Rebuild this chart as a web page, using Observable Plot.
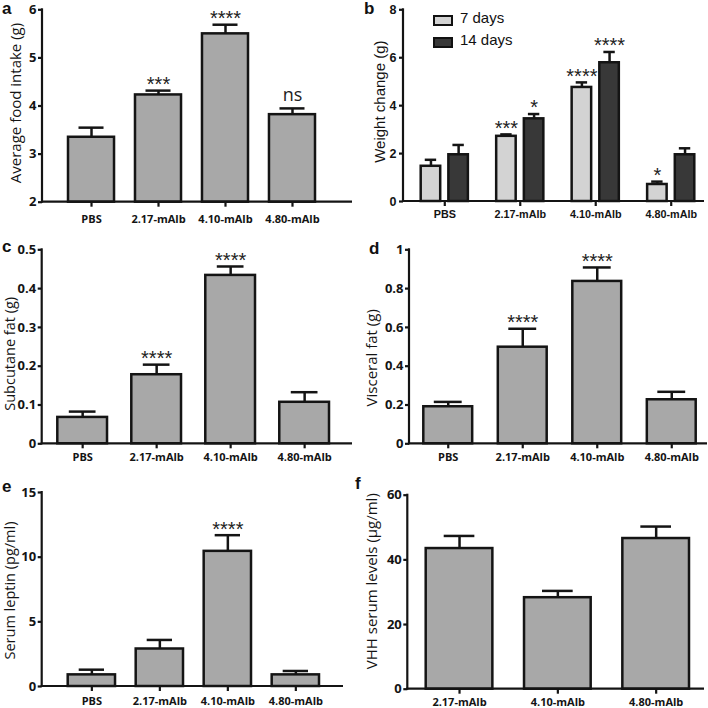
<!DOCTYPE html>
<html>
<head>
<meta charset="utf-8">
<script src="https://cdn.jsdelivr.net/npm/d3@7"></script>
<script src="https://cdn.jsdelivr.net/npm/@observablehq/plot@0.6"></script>
<style>
  html, body { margin: 0; padding: 0; background: #fff; }
  #wrap { position: relative; width: 708px; height: 708px; overflow: hidden; background: #fff; }
  .panel { position: absolute; width: 354px; height: 236px; }
  .letter { position: absolute; font: bold 17px "Liberation Sans", Arial, sans-serif; line-height: 1; color: #111; }
  .legend { position: absolute; font: 15px "Liberation Sans", Arial, sans-serif; color: #111; }
  .legend .row { position: absolute; white-space: nowrap; }
  .legend .sw { position: absolute; width: 16px; height: 7px; border: 2px solid #111; }
  .legend .lab { position: absolute; left: 27px; top: -6px; }
</style>
</head>
<body>
<div id="wrap"></div>
<script>
// ---------- data ----------
const groups = ["PBS", "2.17-mAlb", "4.10-mAlb", "4.80-mAlb"];
const vhhGroups = ["2.17-mAlb", "4.10-mAlb", "4.80-mAlb"];

const foodMean = [3.35, 4.23, 5.50, 3.82];
const foodErr  = [3.55, 4.32, 5.69, 3.95];
const foodSig  = ["", "***", "****", "ns"];

const weight7Mean  = [1.47, 2.72, 4.76, 0.71];
const weight7Err   = [1.74, 2.80, 4.97, 0.83];
const weight7Sig   = ["", "***", "****", "*"];
const weight14Mean = [1.95, 3.45, 5.79, 1.95];
const weight14Err  = [2.36, 3.65, 6.24, 2.22];
const weight14Sig  = ["", "*", "****", ""];
const seriesNames  = ["7 days", "14 days"];

const subMean = [0.068, 0.178, 0.434, 0.107];
const subErr  = [0.083, 0.204, 0.457, 0.133];
const subSig  = ["", "****", "****", ""];

const visMean = [0.191, 0.498, 0.837, 0.227];
const visErr  = [0.216, 0.593, 0.909, 0.268];
const visSig  = ["", "****", "****", ""];

const leptinMean = [0.9, 2.9, 10.45, 0.9];
const leptinErr  = [1.3, 3.6, 11.7, 1.2];
const leptinSig  = ["", "", "****", ""];

const vhhMean = [43.5, 28.3, 46.6];
const vhhErr  = [47.4, 30.4, 50.3];
const vhhSig  = ["", "", ""];

const ticksA = [2, 3, 4, 5, 6];
const ticksB = [0, 2, 4, 6, 8];
const ticksC = [0, 0.1, 0.2, 0.3, 0.4, 0.5];
const ticksD = [0, 0.2, 0.4, 0.6, 0.8, 1];
const ticksE = [0, 5, 10, 15];
const ticksF = [0, 20, 40, 60];

// ---------- helpers ----------
const INK = "#141414";
const MYRIAD = "'Open Sans', 'Noto Sans', sans-serif";
const ARIAL = "'Liberation Sans', Arial, sans-serif";
const plain = d => `${d}`;
const SW = 2.5;

function axisLines() {
  return (index, scales, values, dims) => {
    const {width, height, marginLeft, marginRight, marginTop, marginBottom} = dims;
    const g = d3.create("svg:g").attr("stroke", INK).attr("stroke-width", 2.2).attr("fill", "none");
    g.append("line").attr("x1", marginLeft).attr("x2", marginLeft)
      .attr("y1", marginTop - 1).attr("y2", height - marginBottom + 1);
    g.append("line").attr("x1", marginLeft - 1).attr("x2", width - marginRight)
      .attr("y1", height - marginBottom).attr("y2", height - marginBottom);
    return g.node();
  };
}

function styleAxes(svg, font, yFont, xFont) {
  svg.querySelectorAll('g[aria-label="y-axis tick label"]').forEach(g => {
    g.setAttribute("font-family", font); g.setAttribute("font-size", yFont.size);
    g.setAttribute("font-weight", yFont.weight); g.setAttribute("fill", INK);
  });
  svg.querySelectorAll('g[aria-label="x-axis tick label"]').forEach(g => {
    g.setAttribute("font-family", font); g.setAttribute("font-size", xFont.size);
    g.setAttribute("font-weight", xFont.weight); g.setAttribute("fill", INK);
  });
  return svg;
}

function place(node, left, top) {
  const d = document.createElement("div");
  d.className = "panel";
  d.style.left = left + "px"; d.style.top = top + "px";
  d.appendChild(node);
  document.getElementById("wrap").appendChild(d);
}

function letter(ch, left, top) {
  const d = document.createElement("div");
  d.className = "letter"; d.textContent = ch;
  d.style.left = left + "px"; d.style.top = top + "px";
  document.getElementById("wrap").appendChild(d);
}

function singlePanel(cfg) {
  const data = cfg.groups.map((g, i) => ({g, v: cfg.mean[i], e: cfg.err[i], s: cfg.sig[i]}));
  const stars = data.filter(d => d.s && d.s !== "ns");
  const ns = data.filter(d => d.s === "ns");
  const svg = Plot.plot({
    width: 354, height: 236,
    marginLeft: cfg.m[0], marginTop: cfg.m[1], marginRight: cfg.m[2], marginBottom: cfg.m[3],
    style: {background: "transparent", fontFamily: MYRIAD, overflow: "visible"},
    x: {domain: cfg.groups, range: cfg.xRange, paddingInner: cfg.pI, paddingOuter: 0, round: false},
    y: {domain: cfg.yDomain},
    marks: [
      Plot.barY(data, {x: "g", y1: cfg.yDomain[0], y2: "v", fill: "#a8a8a8", stroke: INK, strokeWidth: SW}),
      Plot.ruleX(data, {x: "g", y1: "v", y2: "e", stroke: INK, strokeWidth: SW}),
      Plot.tickY(data, {x: "g", y: "e", stroke: INK, strokeWidth: SW, inset: cfg.cap}),
      Plot.text(stars, {x: "g", y: "e", text: "s", dy: -6, fontSize: 20, fontFamily: ARIAL, fill: "#222"}),
      Plot.text(ns, {x: "g", y: "e", text: "s", dy: -13, fontSize: 18, fontFamily: MYRIAD, fill: "#222"}),
      Plot.axisY({ticks: cfg.ticks, tickFormat: plain, tickSize: 4, tickPadding: 2, strokeWidth: 2.2, stroke: INK, label: null}),
      Plot.axisX({tickSize: 5, tickPadding: cfg.xPad, strokeWidth: 2.2, stroke: INK, label: null}),
      Plot.text([cfg.yLabel], {frameAnchor: "left", textAnchor: "middle", text: d => d, rotate: -90,
        dx: cfg.lab[0], dy: cfg.lab[1], fontSize: cfg.labSize || 15, fontFamily: MYRIAD, fill: INK}),
      axisLines()
    ]
  });
  return styleAxes(svg, MYRIAD, {size: 13, weight: 700}, {size: 11, weight: 700});
}

// ---------- panel a ----------
place(singlePanel({
  groups, mean: foodMean, err: foodErr, sig: foodSig,
  m: [42, 9.3, 2, 34.3], xRange: [68, 315], pI: 0.313, yDomain: [2, 6], ticks: ticksA,
  cap: 10.5, xPad: 8, yLabel: "Average food intake (g)", lab: [-26.5, -3]
}), 0, 0);

// ---------- panel b (grouped) ----------
(function () {
  const rows = [];
  groups.forEach((g, i) => {
    rows.push({g, k: seriesNames[0], v: weight7Mean[i], e: weight7Err[i], s: weight7Sig[i]});
    rows.push({g, k: seriesNames[1], v: weight14Mean[i], e: weight14Err[i], s: weight14Sig[i]});
  });
  const r7 = rows.filter(d => d.k === seriesNames[0]);
  const r14 = rows.filter(d => d.k === seriesNames[1]);
  const barW = 19.5, gw = 47.17;
  const off = gw / 2 - barW / 2; // center offset of each bar from group center
  const capHalf = 5.7;
  const colors = {"7 days": "#d3d3d3", "14 days": "#383838"};
  const svg = Plot.plot({
    width: 354, height: 236,
    marginLeft: 49, marginTop: 9.3, marginRight: 4, marginBottom: 35,
    style: {background: "transparent", fontFamily: ARIAL, overflow: "visible"},
    x: {domain: groups, range: [66.7, 340.3], paddingInner: 0.375, paddingOuter: 0, round: false},
    y: {domain: [0, 8]},
    marks: [
      Plot.barY(r7, {x: "g", y1: 0, y2: "v", fill: colors["7 days"], stroke: INK, strokeWidth: SW, insetRight: gw - barW}),
      Plot.barY(r14, {x: "g", y1: 0, y2: "v", fill: colors["14 days"], stroke: INK, strokeWidth: SW, insetLeft: gw - barW}),
      Plot.ruleX(r7, {x: "g", y1: "v", y2: "e", dx: -off, stroke: INK, strokeWidth: SW}),
      Plot.ruleX(r14, {x: "g", y1: "v", y2: "e", dx: off, stroke: INK, strokeWidth: SW}),
      Plot.tickY(r7, {x: "g", y: "e", stroke: INK, strokeWidth: SW,
        insetLeft: barW / 2 - capHalf, insetRight: gw - barW / 2 - capHalf}),
      Plot.tickY(r14, {x: "g", y: "e", stroke: INK, strokeWidth: SW,
        insetLeft: gw - barW / 2 - capHalf, insetRight: barW / 2 - capHalf}),
      Plot.text(r7.filter(d => d.s), {x: "g", y: "e", text: "s", dx: -off, dy: -6, fontSize: 20, fontFamily: ARIAL, fill: "#222"}),
      Plot.text(r14.filter(d => d.s), {x: "g", y: "e", text: "s", dx: off, dy: -6, fontSize: 20, fontFamily: ARIAL, fill: "#222"}),
      Plot.axisY({ticks: ticksB, tickFormat: plain, tickSize: 4, tickPadding: 3, strokeWidth: 2.2, stroke: INK, label: null}),
      Plot.axisX({tickSize: 5, tickPadding: 4, strokeWidth: 2.2, stroke: INK, label: null}),
      Plot.text(["Weight change (g)"], {frameAnchor: "left", textAnchor: "middle", text: d => d, rotate: -90,
        dx: -23, dy: -4, fontSize: 15, fontFamily: ARIAL, fill: INK}),
      axisLines()
    ]
  });
  styleAxes(svg, ARIAL, {size: 12.5, weight: 700}, {size: 10.8, weight: 700});
  place(svg, 354, 0);

  // legend
  const lg = document.createElement("div");
  lg.className = "legend";
  lg.style.left = "433px"; lg.style.top = "15px";
  seriesNames.forEach((name, i) => {
    const row = document.createElement("div");
    row.className = "row"; row.style.left = "0px"; row.style.top = (i * 22.4) + "px";
    const sw = document.createElement("div");
    sw.className = "sw"; sw.style.background = colors[name];
    const lab = document.createElement("div");
    lab.className = "lab"; lab.textContent = name;
    row.appendChild(sw); row.appendChild(lab);
    lg.appendChild(row);
  });
  document.getElementById("wrap").appendChild(lg);
})();

// ---------- panel c ----------
place(singlePanel({
  groups, mean: subMean, err: subErr, sig: subSig,
  m: [41.7, 13.3, 2, 28.7], xRange: [57.3, 329], pI: 0.328, yDomain: [0, 0.5], ticks: ticksC,
  cap: 11.5, xPad: 4.4, yLabel: "Subcutane fat (g)", lab: [-32.2, 7], labSize: 14.5
}), 0, 236);

// ---------- panel d ----------
place(singlePanel({
  groups, mean: visMean, err: visErr, sig: visSig,
  m: [55, 13.3, 1, 28.7], xRange: [69.3, 341.7], pI: 0.344, yDomain: [0, 1], ticks: ticksD,
  cap: 10.5, xPad: 4.4, yLabel: "Visceral fat (g)", lab: [-37.5, 11]
}), 354, 236);

// ---------- panel e ----------
place(singlePanel({
  groups, mean: leptinMean, err: leptinErr, sig: leptinSig,
  m: [41.7, 20, 11, 22], xRange: [67.7, 319], pI: 0.304, yDomain: [0, 15], ticks: ticksE,
  cap: 11, xPad: 6, yLabel: "Serum leptin (pg/ml)", lab: [-32.2, 1], labSize: 14.5
}), 0, 472);

// ---------- panel f ----------
place(singlePanel({
  groups: vhhGroups, mean: vhhMean, err: vhhErr, sig: vhhSig,
  m: [53.3, 22.7, 4, 19.3], xRange: [71.7, 335], pI: 0.322, yDomain: [0, 60], ticks: ticksF,
  cap: 18, xPad: 4.3, yLabel: "VHH serum levels (\u00b5g/ml)", lab: [-36, -11]
}), 354, 472);

// ---------- panel letters ----------
letter("a", 2, 0);
letter("b", 364, 0);
letter("c", 2, 238);
letter("d", 369, 240);
letter("e", 2, 478);
letter("f", 355, 475);
</script>
</body>
</html>
